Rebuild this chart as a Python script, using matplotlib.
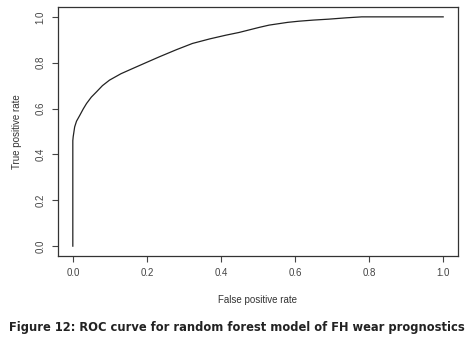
import matplotlib.pyplot as plt

# ROC curve points
fpr = [0.0, 0.0, 0.001, 0.005, 0.010, 0.019, 0.028, 0.037, 0.050, 0.064,
       0.080, 0.099, 0.130, 0.162, 0.200, 0.234, 0.280, 0.323, 0.370, 0.413,
       0.449, 0.503, 0.530, 0.580, 0.610, 0.650, 0.691, 0.740, 0.780, 1.0]
tpr = [0.0, 0.46, 0.477, 0.52, 0.545, 0.571, 0.598, 0.622, 0.650, 0.673,
       0.700, 0.724, 0.752, 0.775, 0.802, 0.826, 0.857, 0.884, 0.904, 0.92,
       0.932, 0.954, 0.964, 0.976, 0.981, 0.986, 0.990, 0.996, 1.0, 1.0]

ticks = [0.0, 0.2, 0.4, 0.6, 0.8, 1.0]
tick_labels = ["0.0", "0.2", "0.4", "0.6", "0.8", "1.0"]

plt.rcParams["font.family"] = ["Liberation Sans", "DejaVu Sans"]

fig = plt.figure(figsize=(4.74, 3.43), dpi=100)
# axes box in pixels: left 58, right 458, top 7, bottom 256
W, H = 474, 343
ax = fig.add_axes([58 / W, 1 - 256 / H, 400 / W, 249 / H])

ax.plot(fpr, tpr, color="#222222", lw=0.9)

ax.set_xlim(-0.04, 1.04)
ax.set_ylim(-0.043, 1.043)
ax.set_xticks(ticks)
ax.set_xticklabels(tick_labels)
ax.set_yticks(ticks)
ax.set_yticklabels(tick_labels, rotation=90, va="center")

for s in ax.spines.values():
    s.set_color("#333333")
    s.set_linewidth(0.9)
ax.tick_params(direction="out", length=4, width=0.8, colors="#444444",
               labelsize=7, pad=5)

ax.set_xlabel("False positive rate", fontsize=7, color="#333333", labelpad=12)
ax.set_ylabel("True positive rate", fontsize=7, color="#333333", labelpad=10)

fig.text(0.5, 1 - 327 / H,
         "Figure 12: ROC curve for random forest model of FH wear prognostics",
         ha="center", va="center", fontsize=8.3, fontweight="bold",
         family="DejaVu Sans", color="#222222")

fig.savefig("out.png", dpi=100)
